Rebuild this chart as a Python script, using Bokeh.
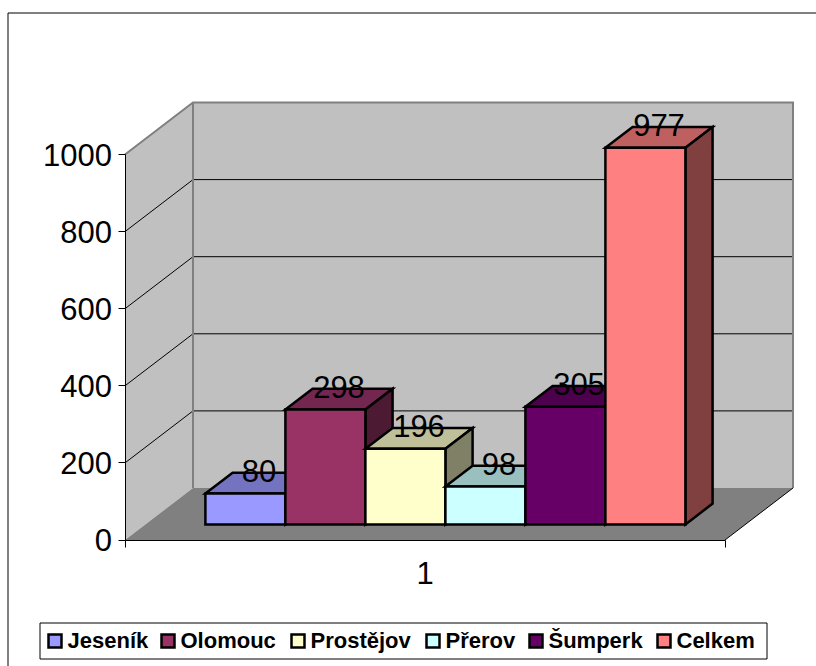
from bokeh.plotting import figure
from bokeh.models import LinearAxis, FixedTicker
from bokeh.core.properties import value
from bokeh.embed import file_html
from bokeh.resources import INLINE

series = ["Jeseník", "Olomouc", "Prostějov", "Přerov", "Šumperk", "Celkem"]
values = [80, 298, 196, 98, 305, 977]
colors = ["#9999FF", "#993366", "#FFFFCC", "#CCFFFF", "#660066", "#FF8080"]
tops = ["#7373BF", "#732650", "#BFBF99", "#99BFBF", "#4D004D", "#BF6060"]
sides = ["#4D4D80", "#4D1A33", "#808066", "#668080", "#330033", "#804040"]
y_ticks = [0, 200, 400, 600, 800, 1000]
category = "1"

legend_keys = [47, 160, 290, 425, 528, 656]

W, H = 816, 666
PX_PER_UNIT = 0.3855
ORIGIN_X, ORIGIN_Y = 124.5, 539.5
WALL_W = 600
DEPTH_X, DEPTH_Y = 68, 52


def px_x(px):
    return px - ORIGIN_X


def px_y(py):
    return (ORIGIN_Y - py) / PX_PER_UNIT


def proj(lat, val, depth):
    return lat + depth * DEPTH_X, val + depth * DEPTH_Y / PX_PER_UNIT


p = figure(width=W, height=H, output_backend="svg", toolbar_location=None,
           x_range=(px_x(0), px_x(W)), y_range=(px_y(H), px_y(0)),
           x_axis_location=None, y_axis_location=None, min_border=0,
           outline_line_color=None, background_fill_color="white")
p.grid.visible = False


def poly(points, **kw):
    xs, ys = zip(*points)
    p.patch(list(xs), list(ys), **kw)


def seg(points, **kw):
    xs, ys = zip(*points)
    p.line(list(xs), list(ys), **kw)


TOP = y_ticks[-1]
# chart area border (left and top only reach the photograph)
seg([(px_x(7.5), px_y(H)), (px_x(7.5), px_y(12.5)), (px_x(W), px_y(12.5))],
    line_color="#000000", line_width=1)

# walls and floor
poly([proj(0, 0, 0), proj(0, 0, 1), proj(0, TOP, 1), proj(0, TOP, 0)], fill_color="#C0C0C0", line_color=None)
poly([proj(0, 0, 1), proj(WALL_W, 0, 1), proj(WALL_W, TOP, 1), proj(0, TOP, 1)], fill_color="#C0C0C0", line_color=None)
poly([proj(0, 0, 0), proj(WALL_W, 0, 0), proj(WALL_W, 0, 1), proj(0, 0, 1)], fill_color="#808080", line_color=None)

# gridlines
for t in y_ticks[1:-1]:
    seg([proj(0, t, 0), proj(0, t, 1), proj(WALL_W, t, 1)], line_color="#000000", line_width=1)

# wall edges
seg([proj(0, TOP, 0), proj(0, TOP, 1), proj(WALL_W, TOP, 1), proj(WALL_W, 0, 1)],
    line_color="#808080", line_width=2, line_join="miter")
seg([proj(0, 0, 1), proj(0, TOP, 1)], line_color="#808080", line_width=2)
seg([proj(WALL_W, 0, 0), proj(WALL_W, 0, 1)], line_color="#000000", line_width=1)

# bars
BAR_W, GAP = 80, 60
D0, D1 = 0.3, 0.7
label_x, label_y = [], []
for i, (v, c, t, s) in enumerate(zip(values, colors, tops, sides)):
    l = GAP + i * BAR_W
    r = l + BAR_W
    style = dict(line_color="#000000", line_width=2.5, line_join="miter")
    poly([proj(l, v, D0), proj(r, v, D0), proj(r, v, D1), proj(l, v, D1)], fill_color=t, **style)
    poly([proj(r, 0, D0), proj(r, 0, D1), proj(r, v, D1), proj(r, v, D0)], fill_color=s, **style)
    poly([proj(l, 0, D0), proj(r, 0, D0), proj(r, v, D0), proj(l, v, D0)], fill_color=c, **style)
    lx, ly = proj((l + r) / 2, v, 0.5)
    label_x.append(lx)
    label_y.append(ly)

p.text(label_x, label_y, text=[str(v) for v in values], text_font=value("Liberation Sans"),
       text_font_size="31px", text_align="center", text_baseline="middle", y_offset=-12,
       text_color="#000000")

# axes
y_axis = LinearAxis(fixed_location=0, bounds=(0, TOP), ticker=FixedTicker(ticks=y_ticks),
                    major_label_text_font="Liberation Sans", major_label_text_font_size="31px",
                    major_label_text_color="#000000", major_tick_in=0, major_tick_out=7,
                    major_tick_line_color="#000000", minor_tick_line_color=None,
                    axis_line_color="#000000", major_label_standoff=6)
p.add_layout(y_axis, "left")

x_axis = LinearAxis(fixed_location=0, bounds=(0, WALL_W), ticker=FixedTicker(ticks=[0, WALL_W]),
                    major_label_overrides={0: "", WALL_W: ""}, major_tick_in=0, major_tick_out=7,
                    major_tick_line_color="#000000", minor_tick_line_color=None,
                    axis_line_color="#000000")
p.add_layout(x_axis, "below")

x_label = LinearAxis(fixed_location=0, ticker=FixedTicker(ticks=[WALL_W / 2]),
                     major_label_overrides={WALL_W / 2: category},
                     major_label_text_font="Liberation Sans", major_label_text_font_size="31px",
                     major_label_text_color="#000000", major_tick_line_color=None,
                     minor_tick_line_color=None, axis_line_color=None, major_label_standoff=16)
p.add_layout(x_label, "below")

# legend
poly([(px_x(39.5), px_y(622.5)), (px_x(766.5), px_y(622.5)), (px_x(766.5), px_y(658.5)), (px_x(39.5), px_y(658.5))],
     fill_color="#FFFFFF", line_color="#000000", line_width=1)
for name, c, kx in zip(series, colors, legend_keys):
    poly([(px_x(kx + 1), px_y(634)), (px_x(kx + 14), px_y(634)), (px_x(kx + 14), px_y(647)), (px_x(kx + 1), px_y(647))],
         fill_color=c, line_color="#000000", line_width=2.5, line_join="miter")
    p.text([px_x(kx + 20)], [px_y(640)], text=[name], text_font=value("Liberation Sans"),
           text_font_style="bold", text_font_size="22px", text_align="left",
           text_baseline="middle", text_color="#000000")

open("out.html", "w").write(file_html(p, INLINE))
